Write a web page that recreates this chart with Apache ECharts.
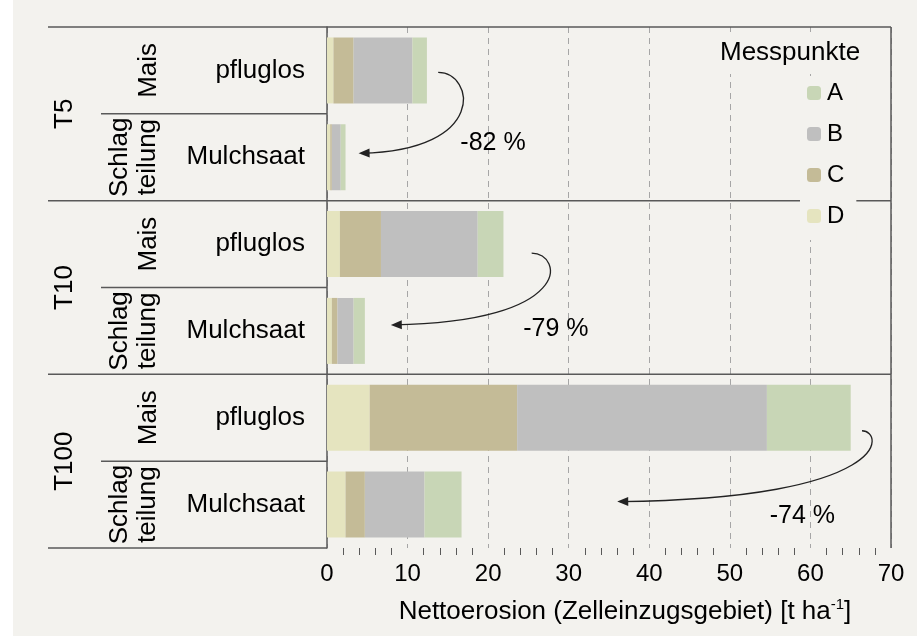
<!DOCTYPE html>
<html>
<head>
<meta charset="utf-8">
<script src="https://cdn.jsdelivr.net/npm/echarts@6/dist/echarts.min.js"></script>
<style>
  html, body { margin: 0; padding: 0; background: #fff; }
  #chart { width: 917px; height: 636px; }
</style>
</head>
<body>
<div id="chart"></div>
<script>
// Zeilen von oben nach unten
const categories = ['T5 pfluglos', 'T5 Mulchsaat', 'T10 pfluglos', 'T10 Mulchsaat', 'T100 pfluglos', 'T100 Mulchsaat']
const groups = ['T5', 'T10', 'T100']
const xTicks = [0, 10, 20, 30, 40, 50, 60, 70]

// Messpunkte, gestapelt von links: D, C, B, A  [t ha-1]
const valuesD = [0.8, 0.4, 1.6, 0.6, 5.3, 2.3]
const valuesC = [2.5, 0.2, 5.1, 0.7, 18.3, 2.4]
const valuesB = [7.3, 1.1, 12.0, 2.0, 31.0, 7.4]
const valuesA = [1.8, 0.6, 3.2, 1.4, 10.4, 4.6]

// Pfeile pfluglos -> Mulchsaat
const arrowFrom = [13.8, 25.4, 66.4]
const arrowTo = [3.3, 7.3, 35.4]
const changeLabels = ['-82 %', '-79 %', '-74 %']
const labelAt = [20.6, 28.4, 59.0]

const bg = '#f3f2ee'
const lineColor = '#595959'
const font = "'Liberation Sans', Arial, sans-serif"

const chart = echarts.init(document.getElementById('chart'))

const barSeries = [
  { name: 'D', data: valuesD, color: '#e5e4bf' },
  { name: 'C', data: valuesC, color: '#c4bb97' },
  { name: 'B', data: valuesB, color: '#bfbfbf' },
  { name: 'A', data: valuesA, color: '#c8d6b6' }
].map(s => ({
  name: s.name,
  type: 'bar',
  stack: 'total',
  barWidth: '76%',
  data: s.data,
  itemStyle: { color: s.color },
  emphasis: { disabled: true }
}))

const option = {
  backgroundColor: bg,
  animation: false,
  textStyle: { fontFamily: font },
  title: {
    text: 'Messpunkte',
    left: 708,
    top: 32,
    padding: [8, 12],
    backgroundColor: bg,
    textStyle: { fontSize: 26, fontWeight: 'normal', color: '#000', fontFamily: font }
  },
  legend: {
    data: ['A', 'B', 'C', 'D'],
    orient: 'vertical',
    left: 800,
    top: 76,
    padding: [5, 12, 12, 7],
    itemGap: 17,
    itemWidth: 14,
    itemHeight: 14,
    backgroundColor: bg,
    z: 10,
    textStyle: { fontSize: 24, color: '#000', padding: [0, 0, 0, 1] }
  },
  grid: { left: 327, right: 26, top: 27, bottom: 88, containLabel: false },
  xAxis: [
    {
      type: 'value',
      min: xTicks[0],
      max: xTicks[xTicks.length - 1],
      interval: 10,
      name: '{a|Nettoerosion (Zelleinzugsgebiet) [t ha}{s|-1}{a|]}',
      nameLocation: 'middle',
      nameGap: 49,
      nameTextStyle: {
        padding: [0, 0, 0, 32],
        rich: {
          a: { fontSize: 26, color: '#000', fontFamily: font, lineHeight: 30 },
          s: { fontSize: 15, color: '#000', fontFamily: font, verticalAlign: 'top', lineHeight: 30 }
        }
      },
      axisLine: { lineStyle: { color: lineColor, width: 1.5 } },
      axisTick: { length: 7, lineStyle: { color: lineColor } },
      minorTick: { show: true, splitNumber: 5, length: 7, lineStyle: { color: lineColor } },
      axisLabel: { fontSize: 24, color: '#000', margin: 14 },
      splitLine: { lineStyle: { color: '#a6a6a6', type: [6, 5], width: 1 } }
    },
    {
      type: 'value',
      position: 'bottom',
      min: xTicks[0],
      max: xTicks[xTicks.length - 1],
      interval: 10,
      axisLine: { show: false },
      axisTick: { inside: true, length: 5, lineStyle: { color: lineColor } },
      axisLabel: { show: false },
      splitLine: { show: false }
    }
  ],
  yAxis: {
    type: 'category',
    data: categories,
    inverse: true,
    axisLine: { lineStyle: { color: lineColor, width: 1.5 } },
    axisTick: { show: false },
    axisLabel: {
      fontSize: 26,
      color: '#000',
      margin: 22,
      formatter: v => v.split(' ')[1]
    }
  },
  series: barSeries
}

chart.setOption(option)
drawFrame()

function drawFrame () {
  const xPix = v => chart.convertToPixel({ xAxisIndex: 0 }, v)
  const cy = categories.map((c, i) => chart.convertToPixel({ yAxisIndex: 0 }, i))
  const band = cy[1] - cy[0]
  const top = cy[0] - band / 2
  const bottom = cy[cy.length - 1] + band / 2
  const left = xPix(xTicks[0])
  const right = xPix(xTicks[xTicks.length - 1])
  const outer = 48
  const inner = 101
  const els = []

  const line = (xa, ya, xb, yb) => ({
    type: 'line',
    z: 5,
    shape: { x1: xa, y1: ya, x2: xb, y2: yb },
    style: { stroke: lineColor, lineWidth: 1.5 }
  })

  // Rahmen und Trennlinien
  els.push(line(outer, top, right, top))
  els.push(line(right, top, right, bottom))
  els.push(line(outer, bottom, left, bottom))
  for (let g = 1; g < groups.length; g++) {
    const y = cy[g * 2] - band / 2
    els.push(line(outer, y, right, y))
  }
  for (let g = 0; g < groups.length; g++) {
    const y = cy[g * 2] + band / 2
    els.push(line(inner, y, left, y))
  }

  // Beschriftung links (gedreht)
  const vtext = (text, x, y, lh) => ({
    type: 'text',
    x: x,
    y: y,
    rotation: Math.PI / 2,
    style: {
      text: text,
      fontSize: 26,
      fontFamily: font,
      fill: '#000',
      lineHeight: lh || 28,
      align: 'center',
      verticalAlign: 'middle'
    }
  })
  groups.forEach((g, i) => {
    els.push(vtext(g, 65, (cy[i * 2] + cy[i * 2 + 1]) / 2))
    els.push(vtext('Mais', 149, cy[i * 2]))
    els.push(vtext('Schlag\nteilung', 134, cy[i * 2 + 1], 28))
  })

  // Pfeile
  const startDy = [2, 9, 13]
  const endDy = [-4, -6, -3]
  const labelDy = [-14, -2, 12]
  const bulge = [24, 21, 15]
  arrowFrom.forEach((v, i) => {
    const sx = xPix(v)
    const sy = cy[i * 2] + startDy[i]
    const ex = xPix(arrowTo[i]) + 8
    const ey = cy[i * 2 + 1] + endDy[i]
    const c1x = sx + bulge[i] * 1.5
    const c2x = sx + bulge[i] * 2.1
    const c2y = ey - 3
    els.push({
      type: 'bezierCurve',
      z: 6,
      shape: { x1: sx, y1: sy, x2: ex, y2: ey, cpx1: c1x, cpy1: sy, cpx2: c2x, cpy2: c2y },
      style: { stroke: '#222', lineWidth: 1.3, fill: null }
    })
    const ang = Math.atan2(ey - c2y, ex - c2x)
    const tipX = ex + Math.cos(ang) * 3
    const tipY = ey + Math.sin(ang) * 3
    const len = 11
    const w = 4.5
    const bx = tipX - Math.cos(ang) * len
    const by = tipY - Math.sin(ang) * len
    els.push({
      type: 'polygon',
      z: 6,
      shape: {
        points: [
          [tipX, tipY],
          [bx - Math.sin(ang) * w, by + Math.cos(ang) * w],
          [bx + Math.sin(ang) * w, by - Math.cos(ang) * w]
        ]
      },
      style: { fill: '#222' }
    })
    els.push({
      type: 'text',
      z: 6,
      x: xPix(labelAt[i]),
      y: cy[i * 2 + 1] + labelDy[i],
      style: {
        text: changeLabels[i],
        fontSize: 25,
        fontFamily: font,
        fill: '#000',
        align: 'center',
        verticalAlign: 'middle'
      }
    })
  })

  // weißer Rand links
  els.push({
    type: 'rect',
    shape: { x: 0, y: 0, width: 13, height: 636 },
    style: { fill: '#fff' }
  })

  chart.setOption({ graphic: els })
}
</script>
</body>
</html>
